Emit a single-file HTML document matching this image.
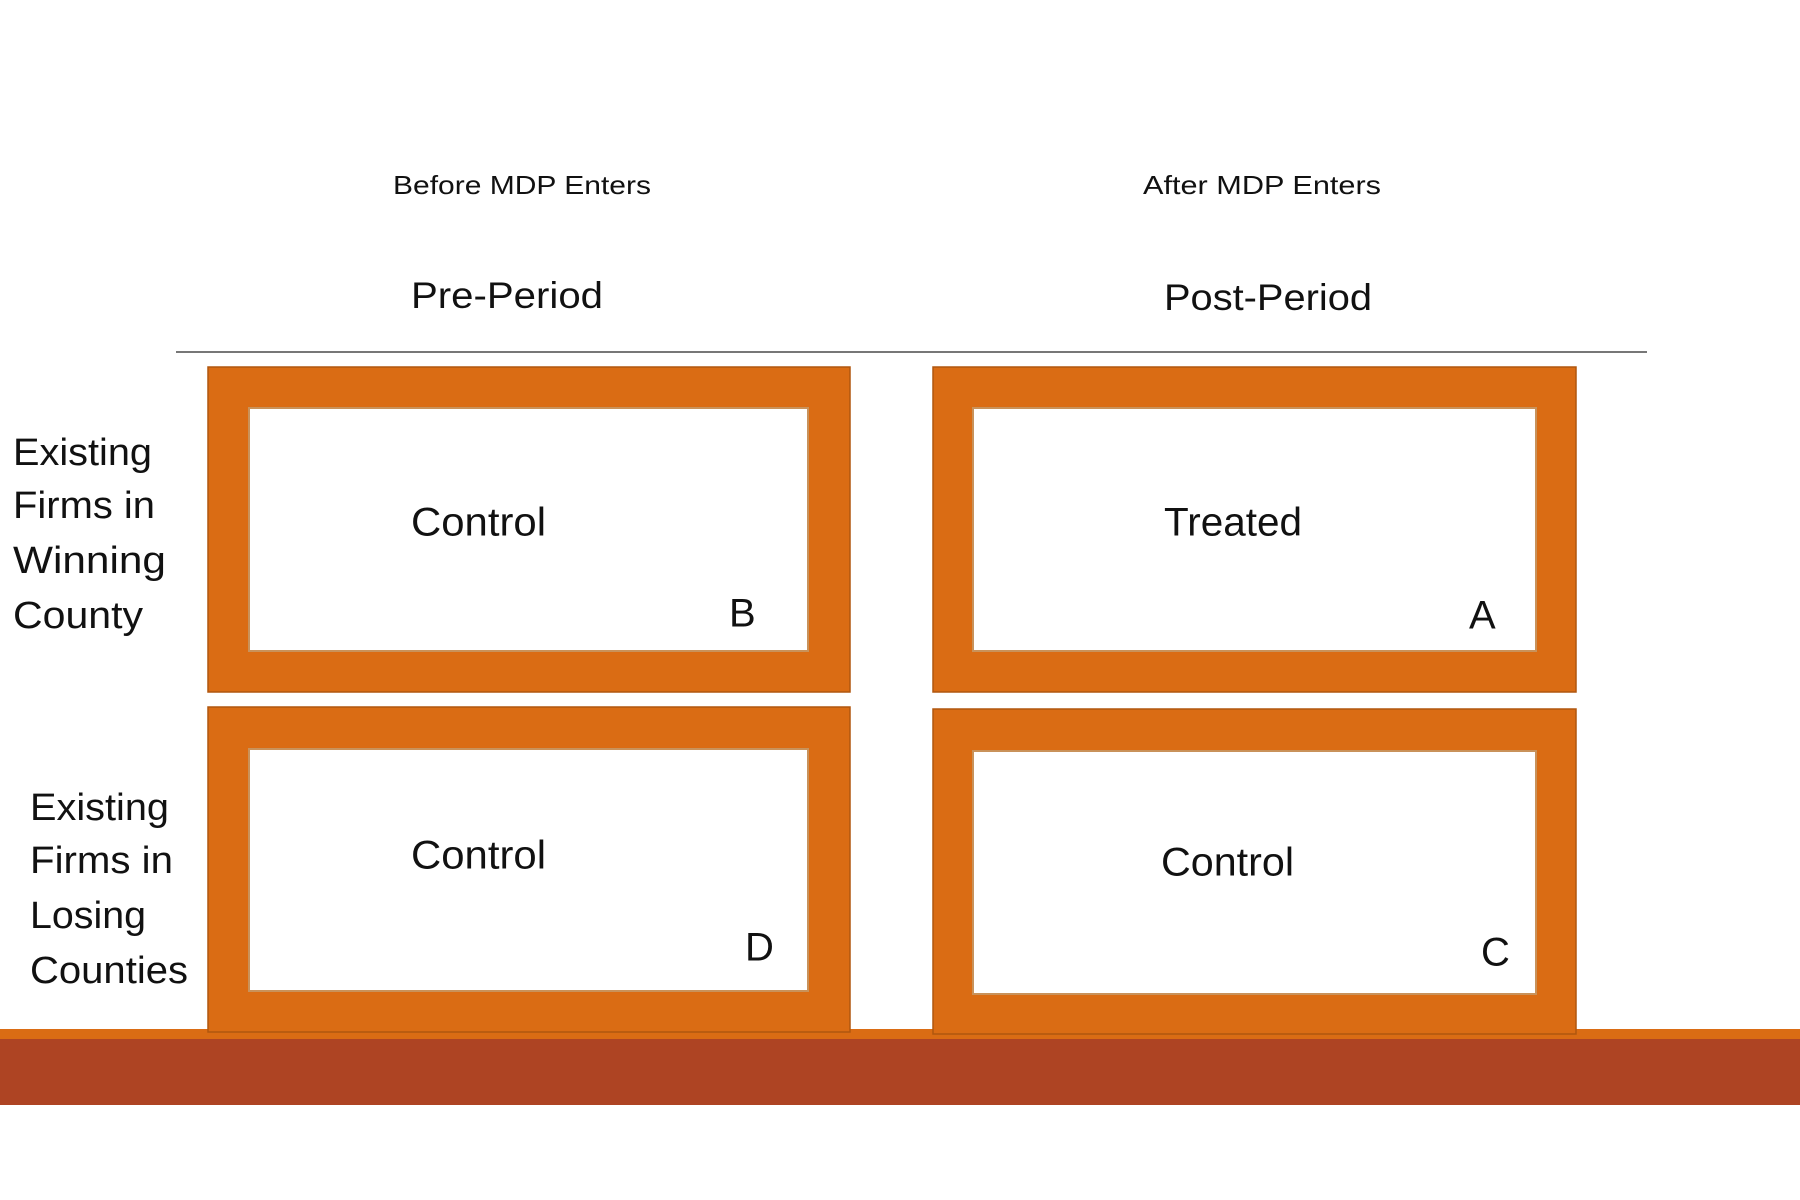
<!DOCTYPE html>
<html><head><meta charset="utf-8"><style>
html,body{margin:0;padding:0;background:#fff;width:1800px;height:1200px;overflow:hidden}
svg{display:block}
text{font-family:"Liberation Sans",sans-serif;fill:#111}
</style></head><body>
<svg width="1800" height="1200" viewBox="0 0 1800 1200">
<g transform="translate(0,4)">
<g font-size="26" dominant-baseline="middle">
<text x="393" y="183" textLength="258" lengthAdjust="spacingAndGlyphs">Before MDP Enters</text>
<text x="1143" y="183" textLength="238" lengthAdjust="spacingAndGlyphs">After MDP Enters</text>
</g>
<g font-size="37" dominant-baseline="middle">
<text x="411" y="294" textLength="192" lengthAdjust="spacingAndGlyphs">Pre-Period</text>
<text x="1164" y="296" textLength="208" lengthAdjust="spacingAndGlyphs">Post-Period</text>
</g>
</g>
<line x1="176" y1="352" x2="1647" y2="352" stroke="#777" stroke-width="2"/>
<rect x="0" y="1029" width="1800" height="11" fill="#DA6C14"/>
<rect x="0" y="1039" width="1800" height="66" fill="#AE4423"/>
<g fill="#DA6C14" stroke="#B0560F" stroke-width="1.5">
<rect x="208" y="367" width="642" height="325"/>
<rect x="933" y="367" width="643" height="325"/>
<rect x="208" y="707" width="642" height="325"/>
<rect x="933" y="709" width="643" height="325"/>
</g>
<g fill="#fff" stroke="#C9925A" stroke-width="2">
<rect x="249" y="408" width="559" height="243"/>
<rect x="973" y="408" width="563" height="243"/>
<rect x="249" y="749" width="559" height="242"/>
<rect x="973" y="751" width="563" height="243"/>
</g>
<g transform="translate(0,4)">
<g font-size="40" dominant-baseline="middle">
<text x="411" y="521" textLength="135" lengthAdjust="spacingAndGlyphs">Control</text>
<text x="729" y="612">B</text>
<text x="1164" y="521" textLength="138" lengthAdjust="spacingAndGlyphs">Treated</text>
<text x="1469" y="614">A</text>
<text x="411" y="854" textLength="135" lengthAdjust="spacingAndGlyphs">Control</text>
<text x="745" y="946">D</text>
<text x="1161" y="861" textLength="133" lengthAdjust="spacingAndGlyphs">Control</text>
<text x="1481" y="951">C</text>
</g>
<g font-size="38" dominant-baseline="middle">
<text x="13" y="451" textLength="139" lengthAdjust="spacingAndGlyphs">Existing</text>
<text x="13" y="504" textLength="142" lengthAdjust="spacingAndGlyphs">Firms in</text>
<text x="13" y="559" textLength="153" lengthAdjust="spacingAndGlyphs">Winning</text>
<text x="13" y="614" textLength="130" lengthAdjust="spacingAndGlyphs">County</text>
<text x="30" y="806" textLength="139" lengthAdjust="spacingAndGlyphs">Existing</text>
<text x="30" y="859" textLength="143" lengthAdjust="spacingAndGlyphs">Firms in</text>
<text x="30" y="914" textLength="116" lengthAdjust="spacingAndGlyphs">Losing</text>
<text x="30" y="969" textLength="158" lengthAdjust="spacingAndGlyphs">Counties</text>
</g>
</g>
</svg>
</body></html>
